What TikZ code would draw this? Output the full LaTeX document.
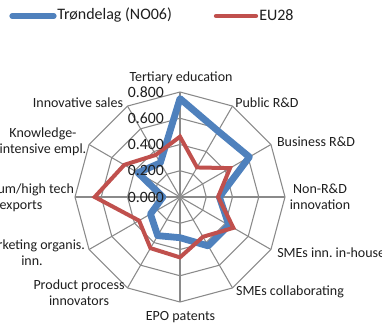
\documentclass[tikz,border=0pt]{standalone}
\usepackage{fontspec}
\setmainfont{Carlito}
\definecolor{blueS}{HTML}{4F81BD}
\definecolor{redS}{HTML}{C0504D}
\definecolor{gridgray}{HTML}{8A8A8A}
\definecolor{txt}{HTML}{1E1E1E}
\begin{document}
\frenchspacing
\begin{tikzpicture}[x=0.75pt,y=0.75pt,
  grid/.style={draw=gridgray, line width=0.8pt},
  lbl/.style={font=\fontsize{10.5}{12}\selectfont, text=txt, align=center, inner sep=0pt},
  num/.style={font=\fontsize{11.8}{14}\selectfont, text=txt, anchor=east, inner sep=0pt},
  legtxt/.style={font=\fontsize{12}{14}\selectfont, text=txt, anchor=west, inner sep=0pt},
  serA/.style={draw=blueS, line width=5.1pt, line join=round},
  serB/.style={draw=redS, line width=3pt, line join=miter},
  legA/.style={draw=blueS, line width=3.9pt, line cap=round},
  legB/.style={draw=redS, line width=3.2pt, line cap=round}]
\useasboundingbox (0,0) rectangle (382,-325);
% legend
\coordinate (la1) at (12,-16);
\coordinate (la2) at (54,-16);
\draw[legA] (la1) -- (la2);
\node[legtxt] (lta) at (57,-15.5) {Trøndelag (NO06)};
\coordinate (lb1) at (216,-16);
\coordinate (lb2) at (256,-16);
\draw[legB] (lb1) -- (lb2);
\node[legtxt] (ltb) at (259,-15.5) {EU28};
% chart
\begin{scope}[shift={(180,-197)}]
\coordinate (C) at (0,0);
\foreach \i in {0,...,11}{
  \pgfmathsetmacro{\ang}{90-30*\i}
  \coordinate (o\i) at (\ang:105);
  \draw[grid] (C) -- (o\i);
}
\foreach \r in {26.25,52.5,78.75,105}{
  \draw[grid] (90:\r) \foreach \a in {60,30,...,-240}{ -- (\a:\r) } -- cycle;
}
% data: 1 unit = 131.25 px
\foreach \v [count=\i from 0] in {0.75,0.58,0.61,0.30,0.43,0.43,0.31,0.34,0.26,0.13,0.37,0.30}{
  \pgfmathsetmacro{\ang}{90-30*\i}
  \coordinate (a\i) at (\ang:{131.25*\v});
}
\foreach \v [count=\i from 0] in {0.46,0.26,0.44,0.29,0.47,0.35,0.46,0.45,0.36,0.65,0.49,0.37}{
  \pgfmathsetmacro{\ang}{90-30*\i}
  \coordinate (b\i) at (\ang:{131.25*\v});
}
\draw[serA] (a0) -- (a1) -- (a2) -- (a3) -- (a4) -- (a5) -- (a6) -- (a7) -- (a8) -- (a9) -- (a10) -- (a11) -- cycle;
\draw[serB] (b0) -- (b1) -- (b2) -- (b3) -- (b4) -- (b5) -- (b6) -- (b7) -- (b8) -- (b9) -- (b10) -- (b11) -- cycle;
\end{scope}
% axis numbers
\node[num] (n0) at (164,-197) {0.000};
\node[num] (n2) at (164,-170.75) {0.200};
\node[num] (n4) at (164,-144.5) {0.400};
\node[num] (n6) at (164,-118.25) {0.600};
\node[num] (n8) at (164,-92) {0.800};
% category labels
\node[lbl] (t0) at (181,-78) {Tertiary education};
\node[lbl] (t1) at (267,-103) {Public R\&D};
\node[lbl] (t2) at (316,-142) {Business R\&D};
\node[lbl] (t3) at (320,-197) {Non-R\&D\\innovation};
\node[lbl, anchor=west] (t4) at (277,-253) {SMEs inn. in-house};
\node[lbl] (t5) at (290,-292) {SMEs collaborating};
\node[lbl] (t6) at (180.5,-317) {EPO patents};
\node[lbl] (t7) at (79,-293) {Product process\\innovators};
\node[lbl] (t8) at (32,-253) {Marketing organis.\\inn.};
\node[lbl] (t9) at (21,-198) {Medium/high tech\\exports};
\node[lbl] (t10) at (43,-142) {Knowledge-\\intensive empl.};
\node[lbl] (t11) at (78,-103) {Innovative sales};
\end{tikzpicture}
\end{document}
